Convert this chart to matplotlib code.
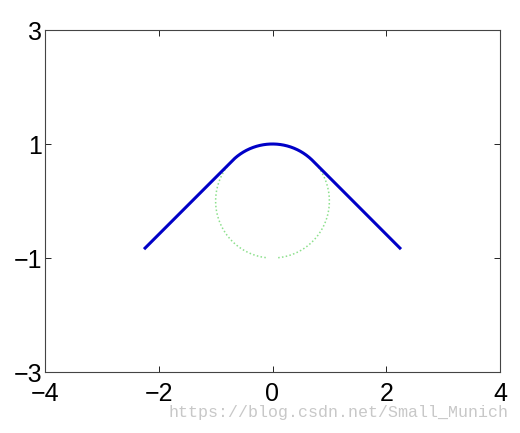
import numpy as np
import matplotlib
matplotlib.use('Agg')
import matplotlib.pyplot as plt

# kurvans parametrar
radie = 1.0
x_slut = 2.24           # var den blå linjen slutar
x_ticks = [-4, -2, 0, 2, 4]
y_ticks = [-3, -1, 1, 3]
vattenmark = 'https://blog.csdn.net/Small_Munich'

plt.rcParams['font.family'] = ['Liberation Sans', 'DejaVu Sans']

# blå kurva: cirkelbåge på toppen, tangentlinjer med lutning +-1
x = np.linspace(-x_slut, x_slut, 600)
grans = radie / np.sqrt(2)
y = np.where(np.abs(x) <= grans, np.sqrt(np.clip(radie**2 - x**2, 0, None)),
             -np.abs(x) + radie * np.sqrt(2))

# grön prickad cirkel
t = np.linspace(-np.pi / 2 + 0.1, 3 * np.pi / 2 - 0.1, 200)
cx = radie * np.cos(t)
cy = radie * np.sin(t)

fig = plt.figure(figsize=(5.2, 4.33), dpi=100)
ax = fig.add_axes([45 / 520, 1 - 372 / 433, 455 / 520, 342 / 433])

ax.plot(cx, cy, color=(0.55, 0.88, 0.55), linestyle=(0, (1, 1.5)), linewidth=1.1)
ax.plot(x, y, color=(0.0, 0.0, 0.78), linewidth=2.2)

ax.set_xlim(-4, 4)
ax.set_ylim(-3, 3)
ax.set_xticks(x_ticks)
ax.set_yticks(y_ticks)
ax.set_xticklabels(['\u2212' + str(-v) if v < 0 else str(v) for v in x_ticks])
ax.set_yticklabels(['\u2212' + str(-v) if v < 0 else str(v) for v in y_ticks])
ax.tick_params(direction='in', length=4, width=0.6, top=True, right=True,
               labelsize=18, colors='black')
ax.tick_params(axis='x', pad=7)
ax.tick_params(axis='y', pad=2)
for s in ax.spines.values():
    s.set_linewidth(0.8)
    s.set_color('#444444')

fig.text(508 / 520, 1 - 412 / 433, vattenmark, ha='right', va='center',
         family='Liberation Mono', fontsize=12, color='#c8c8c8')

fig.savefig('out.png', dpi=100)
